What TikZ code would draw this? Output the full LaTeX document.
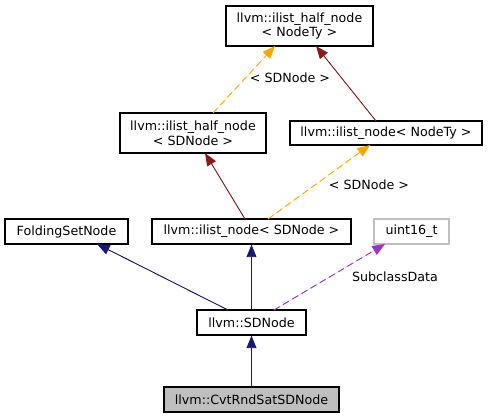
\documentclass[tikz,border=0pt]{standalone}
\usepackage{fontspec}
\setmainfont{DejaVu Sans}
\usetikzlibrary{arrows.meta}
\definecolor{dred}{HTML}{8B1A1A}
\definecolor{navy}{HTML}{191970}
\definecolor{orng}{HTML}{FFA500}
\definecolor{purp}{HTML}{9A32CD}
\begin{document}
\begin{tikzpicture}[x=0.75pt,y=-0.75pt,
  box/.style={draw=black,fill=white,line width=0.8pt,inner sep=0pt,align=center,font=\fontsize{9.5}{11}\selectfont},
  lbl/.style={font=\fontsize{9.5}{11}\selectfont,inner sep=0pt},
  tip/.style={-{Triangle[length=9.5pt,width=7.5pt]}},
  inh/.style={tip,draw=navy,fill=navy,line width=0.7pt},
  pub/.style={tip,draw=dred,fill=dred,line width=0.7pt},
  tmpl/.style={tip,draw=orng,fill=orng,line width=0.7pt,dash pattern=on 5pt off 3pt},
  use/.style={tip,draw=purp,fill=purp,line width=0.7pt,dash pattern=on 5pt off 3pt}]
\useasboundingbox (0,0) rectangle (488,419);
\node[box,minimum width=147*0.75pt,minimum height=40*0.75pt] (hn) at (299.5,26) {llvm::ilist\_half\_node\\\textless{} NodeTy \textgreater};
\node[box,minimum width=146*0.75pt,minimum height=40*0.75pt] (hs) at (193,133) {llvm::ilist\_half\_node\\\textless{} SDNode \textgreater};
\node[box,minimum width=192*0.75pt,minimum height=24*0.75pt] (nn) at (386,133) {llvm::ilist\_node\textless{} NodeTy \textgreater};
\node[box,minimum width=123*0.75pt,minimum height=25*0.75pt] (fs) at (66.5,231.5) {FoldingSetNode};
\node[box,minimum width=199*0.75pt,minimum height=25*0.75pt] (ns) at (251.5,231.5) {llvm::ilist\_node\textless{} SDNode \textgreater};
\node[box,draw=lightgray,minimum width=75*0.75pt,minimum height=25*0.75pt] (u16) at (411.5,231.5) {uint16\_t};
\node[box,minimum width=109*0.75pt,minimum height=25*0.75pt] (sd) at (251.5,322.5) {llvm::SDNode};
\node[box,fill=gray!50,minimum width=175*0.75pt,minimum height=25*0.75pt] (cv) at (251.5,399.5) {llvm::CvtRndSatSDNode};
\coordinate (hsT) at (213,113);
\coordinate (hnB1) at (275,46);
\coordinate (hnB2) at (316,46);
\coordinate (nnT) at (376,121);
\coordinate (nnB) at (370,145);
\coordinate (nsT1) at (245,219);
\coordinate (nsT2) at (268,219);
\coordinate (hsB) at (205,153);
\coordinate (sdT1) at (228,310);
\coordinate (sdT3) at (274,310);
\coordinate (fsB) at (97,244);
\coordinate (u16B) at (385,244);
\draw[tmpl] (hsT) -- (hnB1);
\node[lbl] (l1) at (290,78) {\textless{} SDNode \textgreater};
\draw[pub] (nnT) -- (hnB2);
\draw[pub] (nsT1) -- (hsB);
\draw[tmpl] (nsT2) -- (nnB);
\node[lbl] (l2) at (369,185) {\textless{} SDNode \textgreater};
\draw[inh] (sdT1) -- (fsB);
\draw[inh] (sd.north) -- (ns.south);
\draw[use] (sdT3) -- (u16B);
\node[lbl] (l3) at (395,277) {SubclassData};
\draw[inh] (cv.north) -- (sd.south);
\end{tikzpicture}
\end{document}
